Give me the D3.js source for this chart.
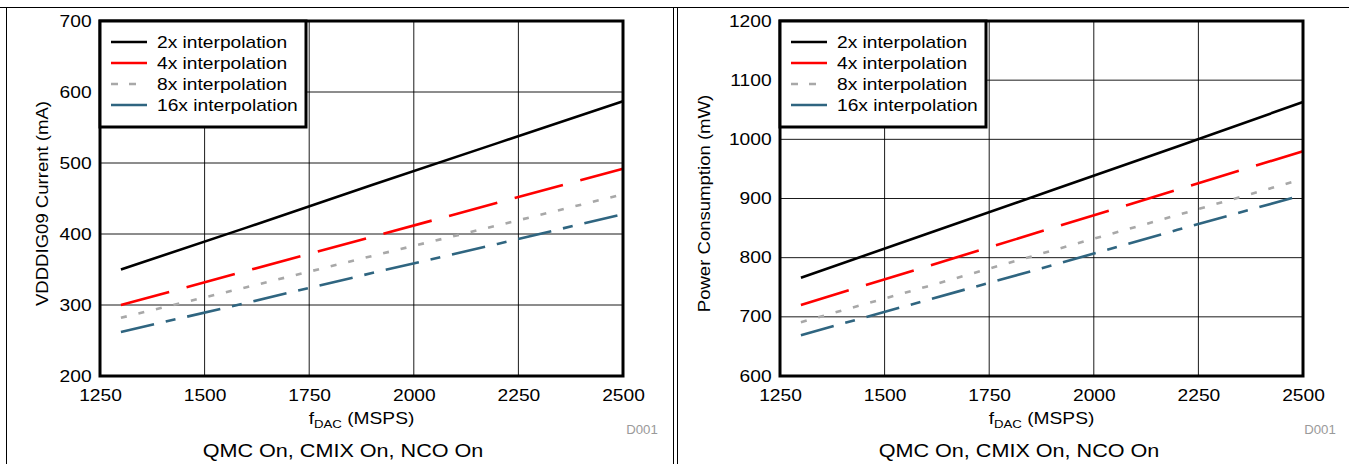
<!DOCTYPE html>
<html>
<head>
<meta charset="utf-8">
<script src="https://cdn.jsdelivr.net/npm/d3@7"></script>
<style>
  body { margin: 0; background: #fff; }
  text { font-family: "Liberation Sans", Arial, sans-serif; }
</style>
</head>
<body>
<svg id="chart" width="1349" height="464"></svg>
<script>
// values
const fdac = [1300, 1600, 1900, 2200, 2500];
const seriesNames = ["2x interpolation", "4x interpolation", "8x interpolation", "16x interpolation"];

const currentMA = [
  [350, 409, 469, 528, 587],   // 2x
  [300, 348, 396, 444, 492],   // 4x
  [282, 325, 369, 412, 456],   // 8x
  [262, 303, 345, 386, 428]    // 16x
];
const powerMW = [
  [766, 840, 914, 988, 1063],
  [720, 785, 850, 915, 980],
  [691, 751, 812, 872, 933],
  [669, 728, 787, 847, 906]
];

const xTicks = [1250, 1500, 1750, 2000, 2250, 2500];
const currentTicks = [200, 300, 400, 500, 600, 700];
const powerTicks = [600, 700, 800, 900, 1000, 1100, 1200];

const styles = [
  {color: "#000000", dash: null},
  {color: "#ff0000", dash: "50,18"},
  {color: "#a8a8a8", dash: "6,12"},
  {color: "#2f6580", dash: "34,12,10,12"}
];

const SX = 1.2; // text in the reference is drawn wide
const svg = d3.select("#chart");

// outer panel frame
svg.append("line").attr("x1", 0).attr("x2", 1349).attr("y1", 7.5).attr("y2", 7.5).attr("stroke", "#000");
[6.5, 673.5, 677.5].forEach(x => {
  svg.append("line").attr("x1", x).attr("x2", x).attr("y1", 7).attr("y2", 464).attr("stroke", "#000");
});

function drawPanel(opt) {
  const left = opt.left, top = 21, w = 523, h = 355;
  const g = svg.append("g").attr("transform", `translate(${left},${top})`);

  const x = d3.scaleLinear().domain([1250, 2500]).range([0, w]);
  const y = d3.scaleLinear().domain(d3.extent(opt.yTicks)).range([h, 0]);

  // grid
  g.append("g").selectAll("line").data(xTicks.slice(1, -1)).join("line")
    .attr("x1", d => x(d)).attr("x2", d => x(d)).attr("y1", 0).attr("y2", h)
    .attr("stroke", "#000").attr("stroke-width", 0.9);
  g.append("g").selectAll("line").data(opt.yTicks.slice(1, -1)).join("line")
    .attr("x1", 0).attr("x2", w).attr("y1", d => y(d)).attr("y2", d => y(d))
    .attr("stroke", "#000").attr("stroke-width", 0.9);

  // lines
  const line = d3.line().x((d, i) => x(fdac[i])).y(d => y(d));
  opt.values.forEach((vals, k) => {
    g.append("path").datum(vals)
      .attr("d", line)
      .attr("fill", "none")
      .attr("stroke", styles[k].color)
      .attr("stroke-width", 2.6)
      .attr("stroke-dasharray", styles[k].dash);
  });

  // axes
  const fmt = d3.format("d");
  const xa = g.append("g").attr("transform", `translate(0,${h})`)
    .call(d3.axisBottom(x).tickValues(xTicks).tickFormat(fmt).tickSize(0).tickPadding(14));
  const ya = g.append("g")
    .call(d3.axisLeft(y).tickValues(opt.yTicks).tickFormat(fmt).tickSize(0).tickPadding(7));
  [xa, ya].forEach(a => {
    a.select(".domain").remove();
    a.selectAll("text")
      .attr("font-size", 16).attr("fill", "#000")
      .attr("font-family", "Liberation Sans, Arial, sans-serif")
      .attr("transform", `scale(${SX},1)`);
  });

  // plot frame
  g.append("rect").attr("width", w).attr("height", h)
    .attr("fill", "none").attr("stroke", "#000").attr("stroke-width", 3);

  // legend
  const lg = g.append("g");
  lg.append("rect").attr("width", 206).attr("height", 106)
    .attr("fill", "#fff").attr("stroke", "#000").attr("stroke-width", 3);
  seriesNames.forEach((name, k) => {
    const ry = 21 + k * 21;
    lg.append("line").attr("x1", 11).attr("x2", 47).attr("y1", ry).attr("y2", ry)
      .attr("stroke", styles[k].color).attr("stroke-width", 2.6)
      .attr("stroke-dasharray", k === 2 ? "7,11" : null);
    lg.append("text").attr("transform", `translate(57,${ry + 6}) scale(${SX},1)`)
      .attr("font-size", 16).text(name);
  });

  // axis titles
  svg.append("text")
    .attr("transform", `translate(${opt.yTitleX},${top + h / 2 + 5}) rotate(-90) scale(1.16,1)`)
    .attr("text-anchor", "middle").attr("font-size", 16).text(opt.yTitle);

  const xt = svg.append("text")
    .attr("transform", `translate(${left + w / 2},424) scale(${SX},1)`)
    .attr("text-anchor", "middle").attr("font-size", 16);
  xt.append("tspan").text("f");
  xt.append("tspan").attr("font-size", 11).attr("dy", 4).text("DAC");
  xt.append("tspan").attr("dy", -4).text(" (MSPS)");

  svg.append("text")
    .attr("transform", `translate(${opt.tagX},434) scale(1.1,1)`)
    .attr("text-anchor", "middle").attr("font-size", 12).attr("fill", "#9a9a9a")
    .text("D001");

  svg.append("text")
    .attr("transform", `translate(${opt.captionX},457) scale(${SX},1)`)
    .attr("text-anchor", "middle").attr("font-size", 18)
    .text("QMC On, CMIX On, NCO On");
}

drawPanel({left: 100, values: currentMA, yTicks: currentTicks,
  yTitle: "VDDDIG09 Current (mA)", yTitleX: 48, tagX: 642, captionX: 343});
drawPanel({left: 780, values: powerMW, yTicks: powerTicks,
  yTitle: "Power Consumption (mW)", yTitleX: 710, tagX: 1320, captionX: 1019});
</script>
</body>
</html>
